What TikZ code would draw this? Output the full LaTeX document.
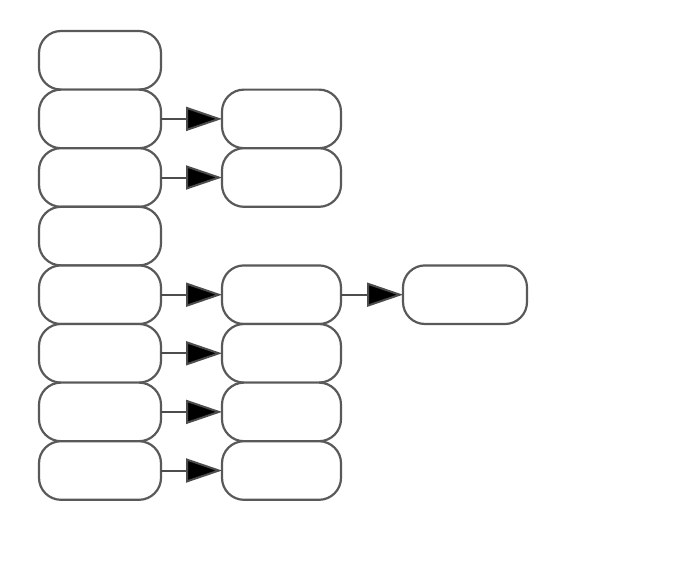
\documentclass[tikz,border=0pt]{standalone}
\usetikzlibrary{arrows.meta}
\begin{document}
\begin{tikzpicture}[x=1pt,y=-1pt,
  cell/.style={draw=black!65, line width=2.2pt, rounded corners=22pt,
    minimum height=58.6pt, inner sep=0pt, outer sep=0pt, fill=white},
  leftcell/.style={cell, minimum width=122pt},
  midcell/.style={cell, minimum width=119pt},
  farcell/.style={cell, minimum width=124pt},
  link/.style={draw=black!70, line width=2pt,
    -{Triangle[length=36pt,width=24pt,fill=black]}}
]
\useasboundingbox (0,0) rectangle (674,576);
% left column of stacked boxes
\foreach \i/\yy in {1/60.3,2/118.9,3/177.5,4/236.1,5/294.7,6/353.3,7/411.9,8/470.5}
  \node[leftcell] (l\i) at (100,\yy) {};
% middle column
\foreach \i/\yy in {2/118.9,3/177.5,5/294.7,6/353.3,7/411.9,8/470.5}
  \node[midcell] (m\i) at (281.5,\yy) {};
% right box
\node[farcell] (r5) at (465,294.7) {};
% connectors
\foreach \i in {2,3,5,6,7,8}
  \draw[link] (l\i.east) -- (m\i.west);
\draw[link] (m5.east) -- (r5.west);
\end{tikzpicture}
\end{document}
